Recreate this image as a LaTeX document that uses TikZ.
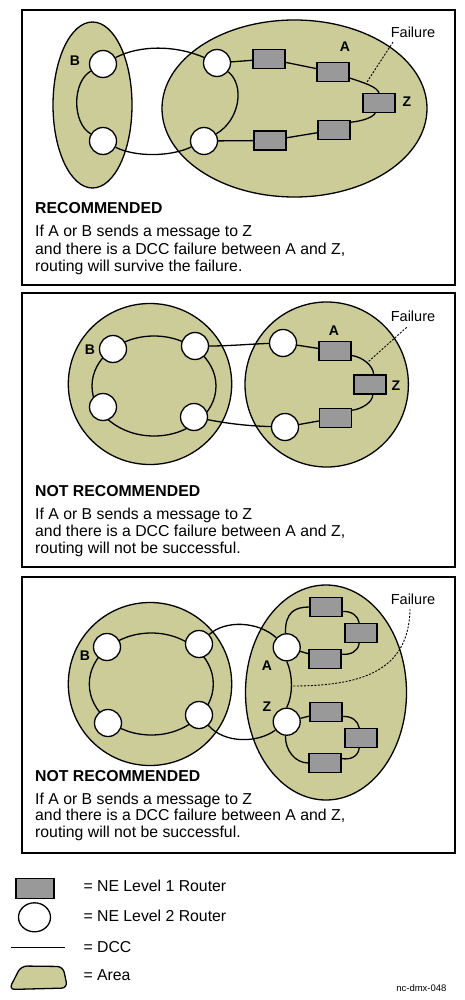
\documentclass[tikz,border=0pt]{standalone}
\usepackage{fontspec}
\setmainfont{Liberation Sans}
\usetikzlibrary{shapes.geometric}
\definecolor{areacol}{HTML}{CCCC99}
\definecolor{routercol}{HTML}{999999}
\begin{document}
\begin{tikzpicture}[x=1pt,y=-1pt,
 panel/.style={draw, line width=2.2pt},
 area/.style={draw, fill=areacol, line width=1.3pt},
 ltwo/.style={circle, draw, fill=white, line width=1.3pt, minimum size=27pt, inner sep=0pt},
 lone/.style={rectangle, draw, fill=routercol, line width=1.3pt, minimum width=32pt, minimum height=19pt, inner sep=0pt},
 dcc/.style={line width=1.3pt},
 fail/.style={line width=0.9pt, dash pattern=on 2pt off 1.5pt},
 lab/.style={font=\fontsize{14}{14}\selectfont\bfseries, inner sep=0pt},
 flab/.style={font=\fontsize{14.5}{14.5}\selectfont, inner sep=0pt},
 captext/.style={font=\fontsize{15.8}{17.5}\selectfont, anchor=base west, inner sep=0pt},
 captitle/.style={font=\fontsize{15.8}{17.5}\selectfont\bfseries, anchor=base west, inner sep=0pt}]
\useasboundingbox (0,0) rectangle (465,1000);

% ================= Panel 1 =================
\draw[panel] (22,10) rectangle (455,285);
\draw[area] (92.5,105) ellipse [x radius=39.5, y radius=83];
\draw[area] (294.5,108.5) ellipse [x radius=132.5, y radius=88.5];
\node[ltwo] (p1b1) at (103,64) {};
\node[ltwo] (p1b2) at (103,141) {};
\node[ltwo] (p1c1) at (217,63) {};
\node[ltwo] (p1c2) at (204,141) {};
\node[lone] (p1r1) at (269,59) {};
\node[lone] (p1r2) at (333,72) {};
\node[lone] (p1z) at (379,103) {};
\node[lone] (p1r4) at (334,130) {};
\node[lone] (p1r5) at (270,140.5) {};
\draw[dcc] (p1b1) .. controls (72,82) and (72,123) .. (p1b2);
\draw[dcc] (p1b1) .. controls (140,45) and (175,45) .. (p1c1);
\draw[dcc] (p1b2) .. controls (135,157) and (170,157) .. (p1c2);
\draw[dcc] (p1c1) .. controls (245,85) and (240,120) .. (p1c2);
\draw[dcc] (p1c1) -- (p1r1);
\draw[dcc] (p1r1) -- (p1r2);
\draw[dcc] (p1r2.-20) .. controls (365,83) and (377,87) .. (p1z.90);
\draw[dcc] (p1z.-110) .. controls (372,118) and (362,121) .. (p1r4.25);
\draw[dcc] (p1r4) -- (p1r5);
\draw[dcc] (p1r5) -- (p1c2);
\node[lab] (p1lb) at (75,61) {B};
\node[lab] (p1la) at (345,47) {A};
\node[lab] (p1lz) at (407,102) {Z};
\node[flab] (p1fl) at (413,32) {Failure};
\coordinate (p1fa) at (393,42);
\coordinate (p1fb) at (367,82);
\draw[fail] (p1fa) -- (p1fb);
\node[captitle] (p1t0) at (35,214) {RECOMMENDED};
\node[captext] (p1t1) at (35,236.7) {If A or B sends a message to Z};
\node[captext] (p1t2) at (35,254.3) {and there is a DCC failure between A and Z,};
\node[captext] (p1t3) at (35,271.7) {routing will survive the failure.};

% ================= Panel 2 =================
\draw[panel] (22,293) rectangle (455,567);
\draw[area] (150,384) ellipse [x radius=81.7, y radius=80.5];
\draw[area] (326.7,384.5) ellipse [x radius=81.7, y radius=82.5];
\draw[dcc] (154,386) ellipse [x radius=62, y radius=50];
\node[ltwo] (p2n1) at (113,349) {};
\node[ltwo] (p2n2) at (195,346) {};
\node[ltwo] (p2n3) at (103,407) {};
\node[ltwo] (p2n4) at (194,417) {};
\node[ltwo] (p2m1) at (283,343) {};
\node[ltwo] (p2m2) at (285,427) {};
\node[lone] (p2a) at (335,351) {};
\node[lone] (p2z) at (370,384.5) {};
\node[lone] (p2b) at (335.5,418) {};
\draw[dcc] (p2n2) .. controls (230,346) and (250,344) .. (p2m1);
\draw[dcc] (p2n4) .. controls (230,424) and (250,426) .. (p2m2);
\draw[dcc] (p2m1) -- (p2a);
\draw[dcc] (p2a.-15) .. controls (362,357) and (373,365) .. (p2z.70);
\draw[dcc] (p2z.-75) .. controls (373,402) and (362,409) .. (p2b.25);
\draw[dcc] (p2b) -- (p2m2);
\node[lab] (p2lb) at (90,350) {B};
\node[lab] (p2la) at (334,331) {A};
\node[lab] (p2lz) at (396,386) {Z};
\node[flab] (p2fl) at (413,316) {Failure};
\coordinate (p2fa) at (406.7,327.3);
\coordinate (p2fb) at (368.3,361.7);
\draw[fail] (p2fa) -- (p2fb);
\node[captitle] (p2t0) at (35,496) {NOT RECOMMENDED};
\node[captext] (p2t1) at (35,519.3) {If A or B sends a message to Z};
\node[captext] (p2t2) at (35,536) {and there is a DCC failure between A and Z,};
\node[captext] (p2t3) at (35,553.3) {routing will not be successful.};

% ================= Panel 3 =================
\draw[panel] (22,577) rectangle (455,853);
\draw[area] (150,684) ellipse [x radius=81.7, y radius=81.5];
\draw[area] (326,692.5) ellipse [x radius=80.5, y radius=107.5];
\draw[dcc] (151.3,684) ellipse [x radius=62, y radius=51];
\node[ltwo] (p3q1) at (107,647) {};
\node[ltwo] (p3q2) at (199,644) {};
\node[ltwo] (p3q3) at (108,723) {};
\node[ltwo] (p3q4) at (199,715) {};
\node[ltwo] (p3ca) at (286.7,647.3) {};
\node[ltwo] (p3cz) at (286.7,721.7) {};
\node[lone] (p3s1) at (326,607) {};
\node[lone] (p3s2) at (361,633) {};
\node[lone] (p3s3) at (325,658.7) {};
\node[lone] (p3s4) at (326,712) {};
\node[lone] (p3s5) at (361,738) {};
\node[lone] (p3s6) at (325,763) {};
\draw[dcc] (p3q2) .. controls (225,620) and (258,621) .. (p3ca);
\draw[dcc] (p3q4) .. controls (225,744) and (258,743) .. (p3cz);
\draw[dcc] (p3ca.-90) .. controls (293,675) and (293,695) .. (p3cz.90);
\draw[dcc] (p3ca.95) .. controls (285,612) and (295,607) .. (p3s1.west);
\draw[dcc] (p3s1.-15) .. controls (352,611) and (358,616) .. (p3s2.100);
\draw[dcc] (p3s2.-100) .. controls (358,652) and (350,655) .. (p3s3.15);
\draw[dcc] (p3s3) -- (p3ca);
\draw[dcc] (p3cz) -- (p3s4);
\draw[dcc] (p3s4.-15) .. controls (352,716) and (358,721) .. (p3s5.100);
\draw[dcc] (p3s5.-100) .. controls (358,757) and (350,760) .. (p3s6.15);
\draw[dcc] (p3cz.-95) .. controls (285,750) and (295,763) .. (p3s6.west);
\node[lab] (p3lb) at (85,656) {B};
\node[lab] (p3la) at (267,666) {A};
\node[lab] (p3lz) at (267,707) {Z};
\node[flab] (p3fl) at (413,599) {Failure};
\coordinate (p3fa) at (410,609);
\coordinate (p3fb) at (292,686);
\draw[fail] (p3fa) .. controls (409,672) and (360,686) .. (p3fb);
\node[captitle] (p3t0) at (35,781.7) {NOT RECOMMENDED};
\node[captext] (p3t1) at (35,804) {If A or B sends a message to Z};
\node[captext] (p3t2) at (35,820.7) {and there is a DCC failure between A and Z,};
\node[captext] (p3t3) at (35,837.3) {routing will not be successful.};

% ================= Legend =================
\node[rectangle, draw, fill=routercol, line width=1.3pt, minimum width=38pt, minimum height=20pt, inner sep=0pt] (lg1) at (35,888.3) {};
\node[ellipse, draw, fill=white, line width=1.3pt, minimum width=32pt, minimum height=29pt, inner sep=0pt] (lg2) at (34.5,917.3) {};
\coordinate (lg3a) at (11,947.7);
\coordinate (lg3b) at (65,947.7);
\draw[dcc] (lg3a) -- (lg3b);
\draw[area, rounded corners=6pt] (21,966) -- (63,966.5) -- (67.5,988) -- (9,989.5) -- cycle;
\node[captext] (lgt1) at (83.3,891.7) {= NE Level 1 Router};
\node[captext] (lgt2) at (83.3,921.7) {= NE Level 2 Router};
\node[captext] (lgt3) at (83.3,952.3) {= DCC};
\node[captext] (lgt4) at (83.3,980) {= Area};
\node[font=\fontsize{9.5}{9.5}\selectfont, anchor=base east, inner sep=0pt] (ncid) at (446.7,991) {nc-dmx-048};
\end{tikzpicture}
\end{document}
